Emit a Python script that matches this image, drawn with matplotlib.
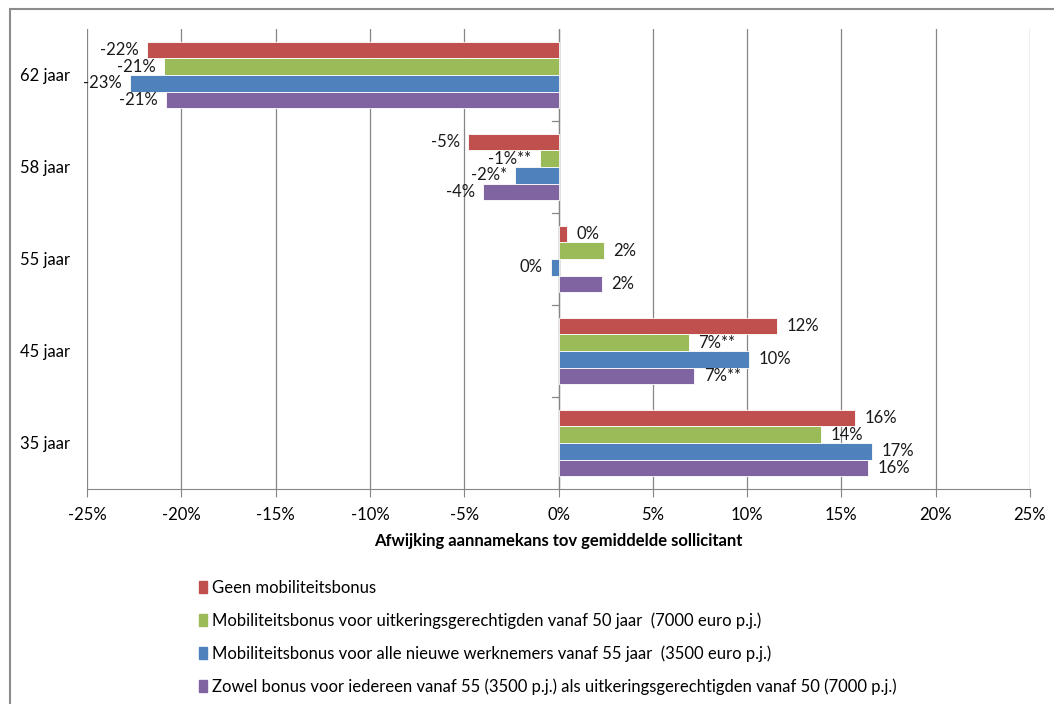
import matplotlib.pyplot as plt
import matplotlib.patches as mpatches
import numpy as np

plt.rcParams['font.family'] = ['Lato', 'DejaVu Sans']

# leeftijdsgroepen en afwijking aannamekans (%) per variant
leeftijden = ['62 jaar', '58 jaar', '55 jaar', '45 jaar', '35 jaar']
varianten = [
    'Geen mobiliteitsbonus',
    'Mobiliteitsbonus voor uitkeringsgerechtigden vanaf 50 jaar  (7000 euro p.j.)',
    'Mobiliteitsbonus voor alle nieuwe werknemers vanaf 55 jaar  (3500 euro p.j.)',
    'Zowel bonus voor iedereen vanaf 55 (3500 p.j.) als uitkeringsgerechtigden vanaf 50 (7000 p.j.)',
]
geen_bonus = [-21.8, -4.8, 0.45, 11.6, 15.7]
bonus_50 = [-20.9, -1.0, 2.4, 6.9, 13.9]
bonus_55 = [-22.7, -2.3, -0.4, 10.1, 16.6]
bonus_beide = [-20.8, -4.0, 2.3, 7.2, 16.4]
# significantie-sterretjes achter de labels
sterren = [
    ['', '', '', '', ''],
    ['', '**', '', '**', ''],
    ['', '*', '', '', ''],
    ['', '', '', '**', ''],
]
kleuren = ['#C0504D', '#9BBB59', '#4F81BD', '#8064A2']
xticks = [-25, -20, -15, -10, -5, 0, 5, 10, 15, 20, 25]

reeksen = [geen_bonus, bonus_50, bonus_55, bonus_beide]
fs = 12

fig = plt.figure(figsize=(10.54, 7.04), dpi=100)
ax = fig.add_axes([87 / 1054, 1 - 489 / 704, (1030 - 87) / 1054, (489 - 29) / 704])

y = np.arange(len(leeftijden))
h = 0.18
offsets = [-1.5 * h, -0.5 * h, 0.5 * h, 1.5 * h]

for i, waarden in enumerate(reeksen):
    ax.barh(y + offsets[i], waarden, height=h, color=kleuren[i],
            edgecolor='white', linewidth=0.6, label=varianten[i], zorder=3)
    for j, v in enumerate(waarden):
        tekst = f'{round(v):d}%' + sterren[i][j]
        if v < 0:
            ax.annotate(tekst, (v, y[j] + offsets[i]), xytext=(-6, 0),
                        textcoords='offset points', ha='right', va='center',
                        fontsize=fs, color='#1a1a1a', zorder=4)
        else:
            ax.annotate(tekst, (v, y[j] + offsets[i]), xytext=(7, 0),
                        textcoords='offset points', ha='left', va='center',
                        fontsize=fs, color='#1a1a1a', zorder=4)

ax.set_xlim(-25, 25)
ax.set_ylim(len(leeftijden) - 0.5, -0.5)
ax.set_xticks(xticks)
ax.set_xticklabels([f'{t}%' for t in xticks], fontsize=fs)
ax.set_yticks(y)
ax.set_yticklabels(leeftijden, fontsize=fs)
ax.tick_params(axis='y', length=0, pad=12)
ax.tick_params(axis='x', length=6, color='#868686', pad=7)
ax.xaxis.grid(True, color='#868686', linewidth=0.9, zorder=0)
for s in ['left', 'right', 'top']:
    ax.spines[s].set_visible(False)
ax.spines['bottom'].set_color('#868686')

# verticale as bij 0% met streepjes tussen de groepen
ax.axvline(0, color='#868686', linewidth=0.9, zorder=2)
for grens in np.arange(0.5, len(leeftijden) - 0.5, 1):
    ax.plot([-0.35, 0], [grens, grens], color='#868686', linewidth=0.9,
            zorder=2, clip_on=False)

ax.set_xlabel('Afwijking aannamekans tov gemiddelde sollicitant',
              fontsize=fs, fontweight='bold', labelpad=7)

handles = [mpatches.Patch(color=k) for k in kleuren]
fig.legend(handles, varianten, loc='upper left',
           bbox_to_anchor=(184 / 1054, 1 - 565 / 704), frameon=False,
           fontsize=fs, labelspacing=0.98, handlelength=0.5, handleheight=0.7,
           handletextpad=0.25)

# kader rond de grafiek
fig.patches.append(mpatches.Rectangle((10 / 1054, -0.1), 1.2, 1 - 9 / 704 + 0.1,
                                      transform=fig.transFigure, fill=False,
                                      edgecolor='#8C8C8C', linewidth=1.5))

fig.savefig('out.png', dpi=100)
